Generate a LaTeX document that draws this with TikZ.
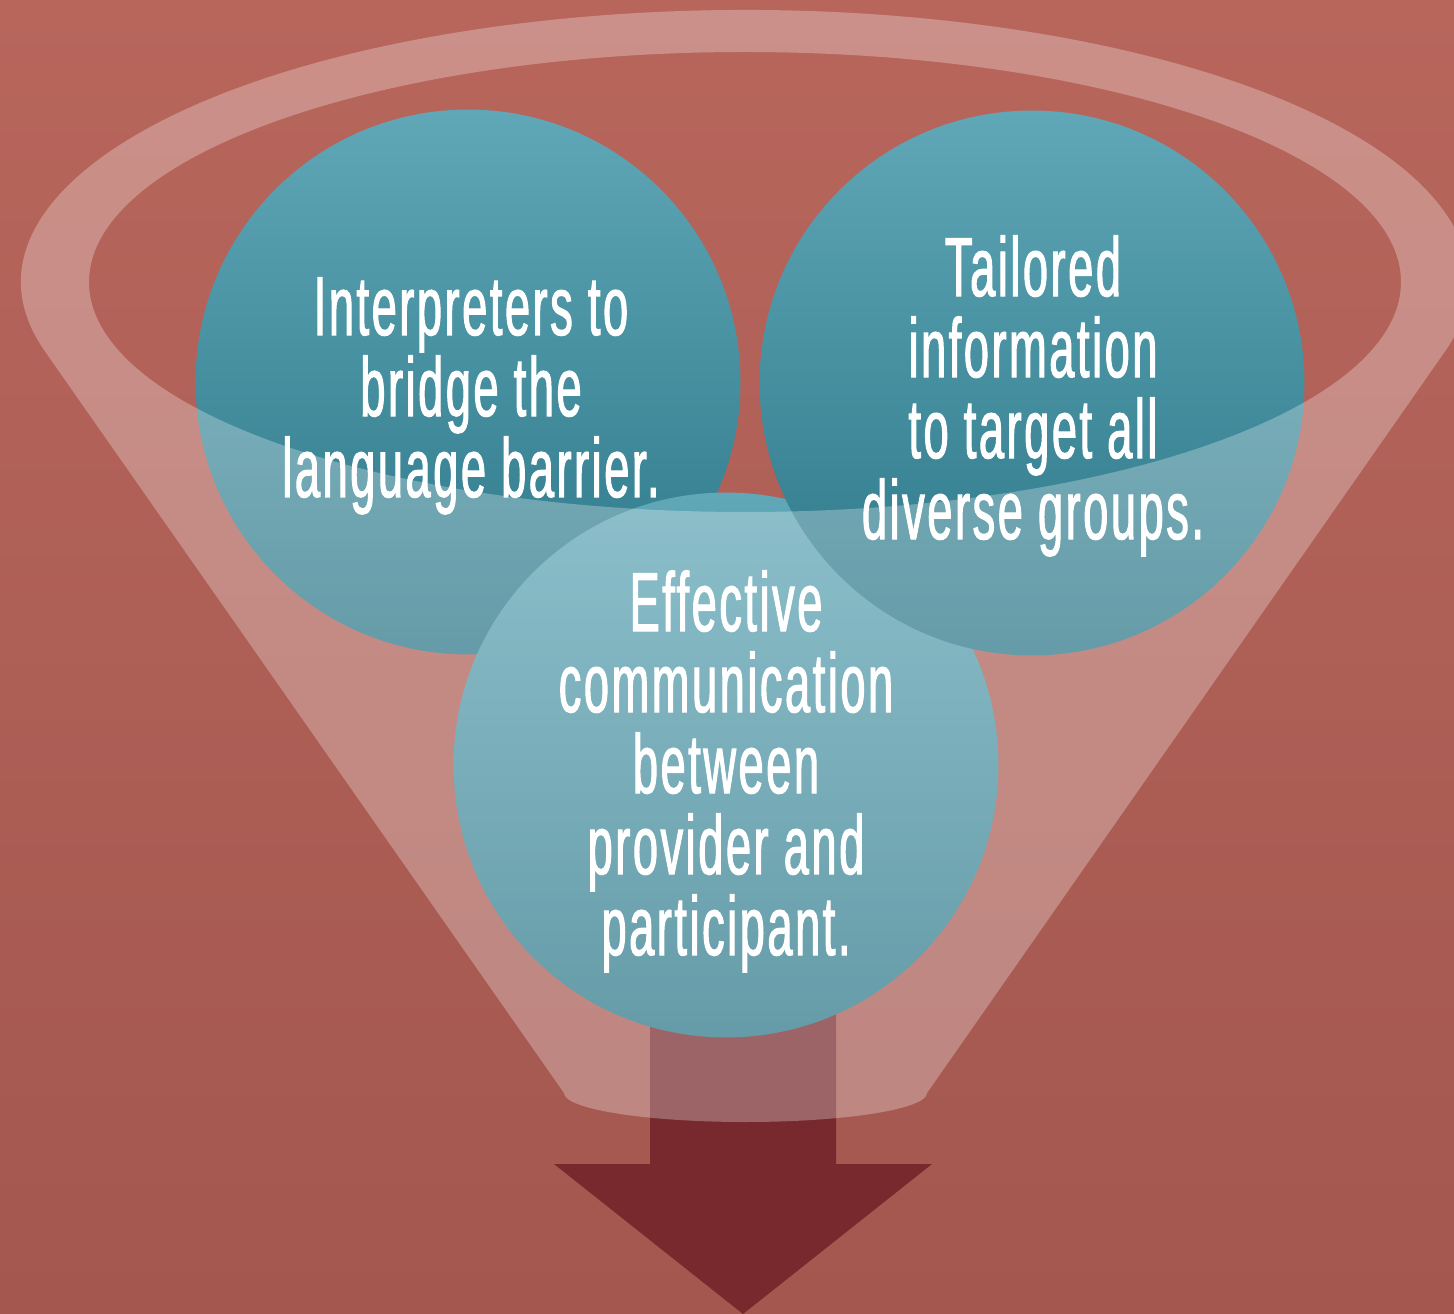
\documentclass[tikz,border=0pt]{standalone}
\usepackage{fontspec}
\newfontfamily\cond{Liberation Sans}[FakeStretch=0.54, FakeBold=1.2, LetterSpace=3]
\definecolor{bgtop}{HTML}{B8665C}
\definecolor{bgbot}{HTML}{A3574F}
\definecolor{tealtop}{HTML}{60A7B7}
\definecolor{tealbot}{HTML}{2A7687}
\definecolor{arrowc}{HTML}{77292D}
\tikzset{
  bubble/.style={circle, inner sep=0pt, minimum size=10.9cm, top color=tealtop, bottom color=tealbot, draw=none},
  lbl/.style={text=white, align=center, inner sep=0pt, anchor=north,
    font=\cond\fontsize{47.7pt}{46.1pt}\selectfont},
  funnel/.style={fill=white, fill opacity=0.28, even odd rule}
}
\begin{document}
\begin{tikzpicture}[x=0.02cm, y=-0.02cm]
\useasboundingbox (0,0) rectangle (1454,1314);
\shade[top color=bgtop, bottom color=bgbot] (0,0) rectangle (1454,1314);
% arrow
\fill[arrowc] (650,1000) -- (836,1000) -- (836,1164) -- (932,1164) -- (743,1314)
  -- (554,1164) -- (650,1164) -- cycle;
% circles
\node[bubble] (c1) at (468,382) {};
\node[bubble] (c3) at (726,765) {};
\node[bubble] (c2) at (1032,383) {};
% funnel overlay
\path[funnel] (745,282) ++(165.27:724 and 272)
  arc[start angle=165.27, end angle=374.73, x radius=724, y radius=272]
  -- (927,1093)
  arc[start angle=0, end angle=180, x radius=181.5, y radius=29]
  -- cycle
  (745,282) ellipse[x radius=656, y radius=230];
% texts
\node[lbl] (t1) at (471,277) {Interpreters to\\bridge the\\language barrier.};
\node[lbl] (t2) at (1033,235) {Tailored\\information\\to target all\\diverse groups.};
\node[lbl] (t3) at (726,570) {Effective\\communication\\between\\provider and\\participant.};
\end{tikzpicture}
\end{document}
